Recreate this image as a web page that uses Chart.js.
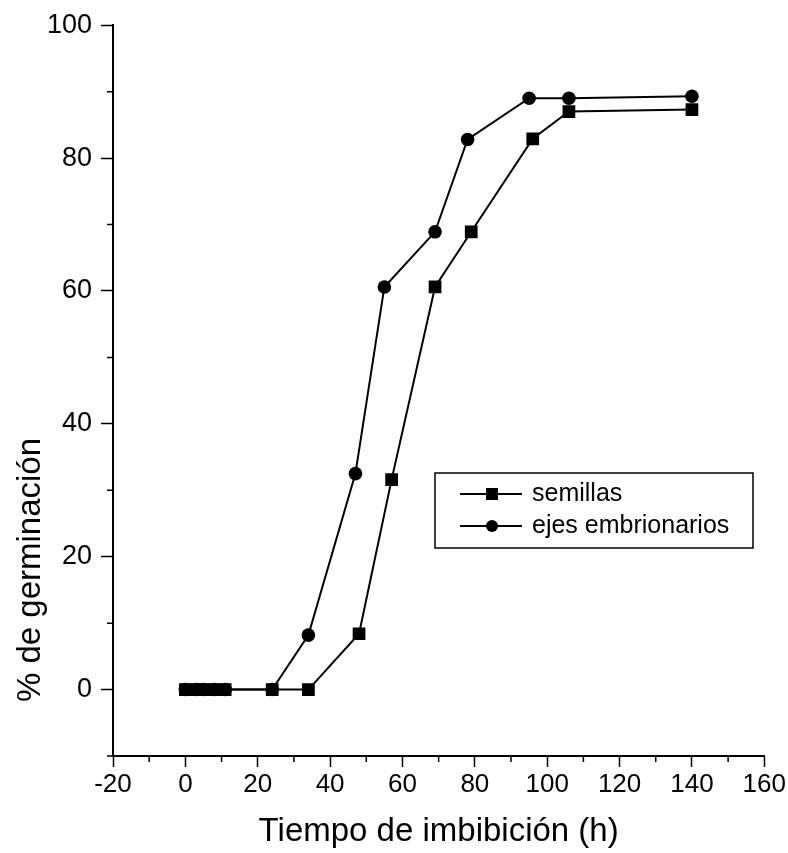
<!DOCTYPE html>
<html>
<head>
<meta charset="utf-8">
<script src="https://cdn.jsdelivr.net/npm/chart.js@4/dist/chart.umd.min.js"></script>
<style>
  html, body { margin: 0; padding: 0; background: #fff; }
  #wrap { width: 788px; height: 853px; }
</style>
</head>
<body>
<div id="wrap"><canvas id="c" width="788" height="853"></canvas></div>
<script>
// Germination over imbibition time: whole seeds vs. embryonic axes
const seriesNames = ['semillas', 'ejes embrionarios'];

const semillasTime = [0, 3, 5, 8, 11, 24, 34, 48, 57, 69, 79, 96, 106, 140];
const semillasPct  = [0, 0, 0, 0, 0, 0, 0, 8.4, 31.6, 60.6, 68.9, 82.9, 87.0, 87.3];

const ejesTime = [0, 3, 5, 8, 11, 24, 34, 47, 55, 69, 78, 95, 106, 140];
const ejesPct  = [0, 0, 0, 0, 0, 0, 8.2, 32.5, 60.6, 68.9, 82.8, 89.0, 89.0, 89.3];

const xMinorTicks = [-10, 10, 30, 50, 70, 90, 110, 130, 150];
const yMinorTicks = [-10, 10, 30, 50, 70, 90];

const xTitle = 'Tiempo de imbibición (h)';
const yTitle = '% de germinación';

const FONT = "'Liberation Sans', Arial, Helvetica, sans-serif";

function toPoints(xs, ys) {
  return xs.map((x, i) => ({ x: x, y: ys[i] }));
}

// Short minor tick marks between the labelled ones
const minorTicks = {
  id: 'minorTicks',
  afterDraw(chart) {
    const { ctx, scales: { x, y } } = chart;
    ctx.save();
    ctx.strokeStyle = '#000';
    ctx.lineWidth = 1.5;
    ctx.beginPath();
    xMinorTicks.forEach(v => {
      const px = x.getPixelForValue(v);
      ctx.moveTo(px, x.top);
      ctx.lineTo(px, x.top + 6);
    });
    yMinorTicks.forEach(v => {
      const py = y.getPixelForValue(v);
      ctx.moveTo(y.right, py);
      ctx.lineTo(y.right - 6, py);
    });
    ctx.stroke();
    ctx.restore();
  }
};

// Vertical axis title, set lower along the axis
const yAxisTitle = {
  id: 'yAxisTitle',
  afterDraw(chart) {
    const { ctx } = chart;
    ctx.save();
    ctx.translate(31, 570);
    ctx.rotate(-Math.PI / 2);
    ctx.fillStyle = '#000';
    ctx.font = '33px ' + FONT;
    ctx.textAlign = 'center';
    ctx.textBaseline = 'middle';
    ctx.fillText(yTitle, 0, 0);
    ctx.restore();
  }
};

// Boxed legend inside the plot area
const boxLegend = {
  id: 'boxLegend',
  afterDraw(chart) {
    const { ctx } = chart;
    const box = { l: 435, t: 473, r: 753, b: 548 };
    ctx.save();
    ctx.strokeStyle = '#000';
    ctx.lineWidth = 1.5;
    ctx.strokeRect(box.l, box.t, box.r - box.l, box.b - box.t);
    const rows = [494, 526];
    chart.data.datasets.forEach((ds, i) => {
      const yy = rows[i];
      ctx.beginPath();
      ctx.lineWidth = 1.8;
      ctx.moveTo(460, yy);
      ctx.lineTo(522, yy);
      ctx.stroke();
      ctx.fillStyle = '#000';
      if (ds.pointStyle === 'rect') {
        ctx.fillRect(486, yy - 6, 12, 12);
      } else {
        ctx.beginPath();
        ctx.arc(492, yy, 6, 0, Math.PI * 2);
        ctx.fill();
      }
      ctx.font = '25px ' + FONT;
      ctx.textAlign = 'left';
      ctx.textBaseline = 'middle';
      ctx.fillText(ds.label, 532, yy);
    });
    ctx.restore();
  }
};

new Chart(document.getElementById('c'), {
  type: 'line',
  data: {
    datasets: [
      {
        label: seriesNames[0],
        data: toPoints(semillasTime, semillasPct),
        borderColor: '#000',
        backgroundColor: '#000',
        borderWidth: 2,
        pointStyle: 'rect',
        pointRadius: 9,
        pointBackgroundColor: '#000',
        pointBorderColor: '#000',
        pointBorderWidth: 0,
        tension: 0
      },
      {
        label: seriesNames[1],
        data: toPoints(ejesTime, ejesPct),
        borderColor: '#000',
        backgroundColor: '#000',
        borderWidth: 2,
        pointStyle: 'circle',
        pointRadius: 6.8,
        pointBackgroundColor: '#000',
        pointBorderColor: '#000',
        pointBorderWidth: 0,
        tension: 0
      }
    ]
  },
  options: {
    responsive: false,
    animation: false,
    devicePixelRatio: 1,
    layout: { padding: { top: 19, right: 23, left: 0, bottom: 0 } },
    plugins: {
      legend: { display: false },
      tooltip: { enabled: false }
    },
    scales: {
      x: {
        type: 'linear',
        min: -20,
        max: 160,
        afterFit(s) { s.height = 97; },
        ticks: {
          stepSize: 20,
          color: '#000',
          padding: 2,
          maxRotation: 0,
          font: { family: FONT, size: 26 }
        },
        grid: {
          drawOnChartArea: false,
          drawTicks: true,
          tickLength: 11,
          tickColor: '#000',
          tickWidth: 1.5
        },
        border: { display: true, color: '#000', width: 2 },
        title: {
          display: true,
          text: xTitle,
          color: '#000',
          padding: { top: 0, bottom: 1 },
          font: { family: FONT, size: 33 }
        }
      },
      y: {
        type: 'linear',
        min: -10,
        max: 100,
        afterFit(s) { s.width = 113; },
        ticks: {
          stepSize: 20,
          includeBounds: false,
          color: '#000',
          padding: 9,
          font: { family: FONT, size: 27 }
        },
        grid: {
          drawOnChartArea: false,
          drawTicks: true,
          tickLength: 12,
          tickColor: '#000',
          tickWidth: 1.5
        },
        border: { display: true, color: '#000', width: 2 }
      }
    }
  },
  plugins: [minorTicks, yAxisTitle, boxLegend]
});
</script>
</body>
</html>
